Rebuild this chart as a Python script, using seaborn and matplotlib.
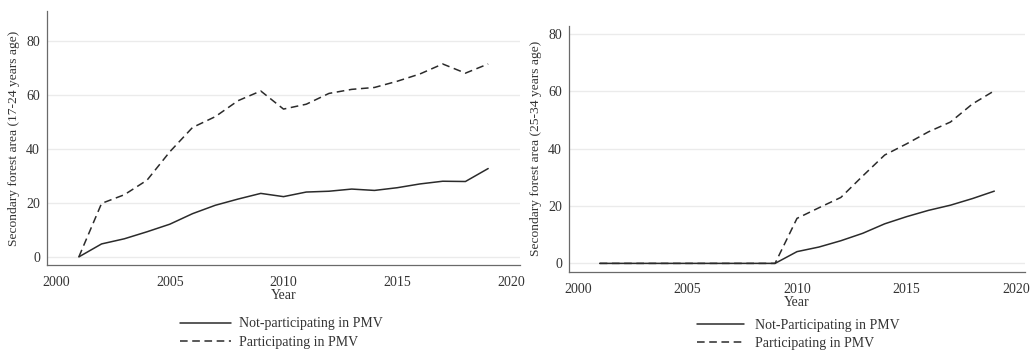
import numpy as np
import pandas as pd
import matplotlib
matplotlib.use("Agg")
import matplotlib.pyplot as plt
import seaborn as sns

years = list(range(2001, 2020))

# Secondary forest 17-24 years of age
young_not = [0, 4.8, 6.7, 9.3, 12.1, 16.0, 19.1, 21.4, 23.5, 22.3,
             24.0, 24.3, 25.1, 24.6, 25.6, 27.0, 28.0, 27.9, 32.7]
young_part = [0, 19.8, 23.0, 28.4, 38.9, 47.9, 51.9, 57.8, 61.4, 54.7,
              56.5, 60.5, 62.0, 62.7, 65.0, 67.7, 71.4, 68.0, 71.4]

# Secondary forest 25-34 years of age
old_not = [0, 0, 0, 0, 0, 0, 0, 0, 0, 4.1,
           5.7, 7.9, 10.5, 13.8, 16.3, 18.5, 20.3, 22.6, 25.2]
old_part = [0, 0, 0, 0, 0, 0, 0, 0, 0, 15.7,
            19.4, 23.0, 30.5, 37.8, 41.7, 45.9, 49.3, 55.6, 60.2]

y_ticks = [0, 20, 40, 60, 80]
x_ticks = [2000, 2005, 2010, 2015, 2020]

sns.set_style("white")
plt.rcParams["font.family"] = ["Liberation Serif", "DejaVu Serif"]
plt.rcParams["font.size"] = 10

line_col = "#2b2b2b"
text_col = "#333333"
axis_col = "#6a6a6a"
FS = 10


def long_frame(not_vals, part_vals, not_name, part_name):
    return pd.DataFrame({
        "Year": years * 2,
        "area": not_vals + part_vals,
        "group": [not_name] * len(years) + [part_name] * len(years),
    })


def draw(ax, df, names, ylabel, ylim, leg_xy, hlen, hpad):
    sns.lineplot(data=df, x="Year", y="area", style="group",
                 style_order=names,
                 dashes={names[0]: "", names[1]: (5, 3)},
                 color=line_col, linewidth=1.1, ax=ax, legend=False)
    ax.set_xlim(1999.6, 2020.4)
    ax.set_ylim(*ylim)
    ax.set_xticks(x_ticks)
    ax.set_yticks(y_ticks)
    ax.yaxis.grid(True, color="#ebebeb", linewidth=1.0)
    ax.set_axisbelow(True)
    for side in ("top", "right"):
        ax.spines[side].set_visible(False)
    for side in ("left", "bottom"):
        ax.spines[side].set_color(axis_col)
        ax.spines[side].set_linewidth(0.9)
    ax.tick_params(axis="both", direction="out", length=3.6, width=0.8,
                   color=axis_col, labelcolor=text_col, labelsize=FS)
    ax.tick_params(axis="x", pad=4.5)
    ax.tick_params(axis="y", pad=1.5)
    ax.set_xlabel("Year", color=text_col, fontsize=FS, labelpad=0)
    ax.set_ylabel(ylabel, color=text_col, fontsize=9.7, labelpad=4)
    handles = [plt.Line2D([], [], color=line_col, linewidth=1.1),
               plt.Line2D([], [], color=line_col, linewidth=1.1,
                          dashes=(5, 3))]
    ax.legend(handles, names, loc="upper left",
              bbox_to_anchor=leg_xy, bbox_transform=ax.figure.transFigure,
              frameon=False, fontsize=FS, handlelength=hlen,
              handletextpad=hpad, labelspacing=0.42, borderpad=0,
              borderaxespad=0, labelcolor=text_col)


fig = plt.figure(figsize=(10.30, 3.54), dpi=100)
ax1 = fig.add_axes([47 / 1030, 1 - 265 / 354, 473 / 1030, 254 / 354])
ax2 = fig.add_axes([569 / 1030, 1 - 271.7 / 354, 456 / 1030, 245.7 / 354])

names1 = ["Not-participating in PMV", "Participating in PMV"]
names2 = ["Not-Participating in PMV", "Participating in PMV"]

draw(ax1, long_frame(young_not, young_part, *names1), names1,
     "Secondary forest area (17-24 years age)", (-3, 91),
     (180 / 1030, 1 - 317.5 / 354), 3.7, 0.55)
draw(ax2, long_frame(old_not, old_part, *names2), names2,
     "Secondary forest area (25-34 years age)", (-2.9, 82.8),
     (697 / 1030, 1 - 318.5 / 354), 3.35, 0.8)

fig.savefig("out.png", dpi=100, facecolor="white")
